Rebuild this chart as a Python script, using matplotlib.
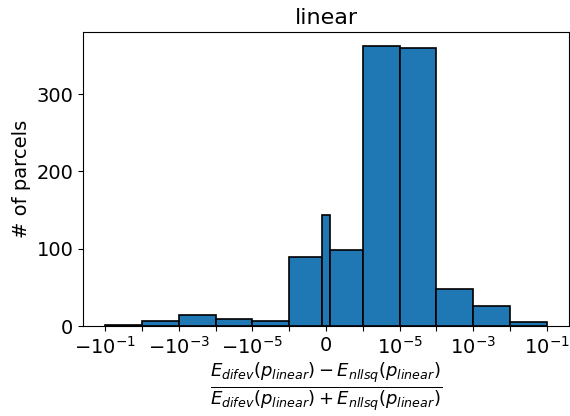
import numpy as np
import matplotlib
matplotlib.use("Agg")
import matplotlib.pyplot as plt

# bin edges (symlog axis) and counts per bin
edges = [-1e-1, -1e-2, -1e-3, -1e-4, -1e-5, -1e-6, -1e-7,
         1e-7, 1e-6, 1e-5, 1e-4, 1e-3, 1e-2, 1e-1]
counts = [1, 7, 15, 9, 7, 89, 144, 98, 362, 359, 48, 26, 5]

tick_pos = [-1e-1, -1e-2, -1e-3, -1e-4, -1e-5, -1e-6, 0,
            1e-6, 1e-5, 1e-4, 1e-3, 1e-2, 1e-1]
tick_lab = [r"$-10^{-1}$", "", r"$-10^{-3}$", "", r"$-10^{-5}$", "", "0",
            "", r"$10^{-5}$", "", r"$10^{-3}$", "", r"$10^{-1}$"]

fig = plt.figure(figsize=(5.7, 4.16), dpi=100)
ax = fig.add_axes([0.146, 0.216, 0.852, 0.707])

ax.set_xscale("symlog", linthresh=1e-6, linscale=0.9)
ax.hist(edges[:-1], bins=edges, weights=counts,
        edgecolor="black", linewidth=1.2, color="#1f77b4")

ax.set_xticks(tick_pos)
ax.set_xticklabels(tick_lab)
ax.xaxis.set_minor_locator(matplotlib.ticker.NullLocator())
ax.set_yticks([0, 100, 200, 300])
ax.tick_params(labelsize=14)

ax.set_title("linear", fontsize=16)
ax.set_ylabel("# of parcels", fontsize=14)
ax.set_xlabel(r"$\frac{E_{difev}(p_{linear}) - E_{nllsq}(p_{linear})}"
              r"{E_{difev}(p_{linear}) + E_{nllsq}(p_{linear})}$", fontsize=18.5,
              labelpad=2)

fig.savefig("out.png", dpi=100)
